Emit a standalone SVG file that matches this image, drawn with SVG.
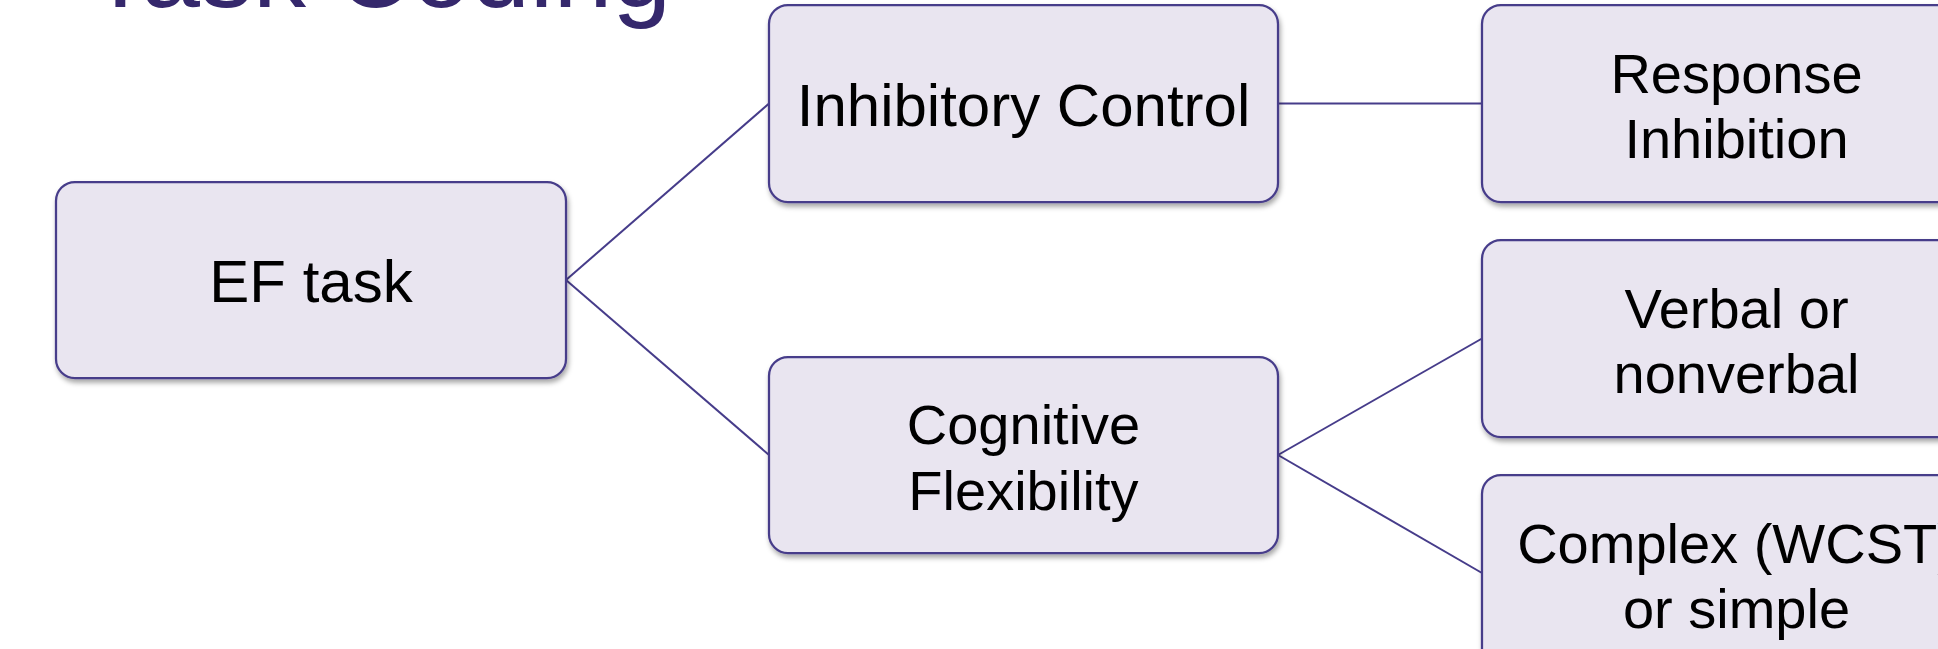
<svg xmlns="http://www.w3.org/2000/svg" width="1938" height="649" viewBox="0 0 1938 649">
<defs>
<filter id="sh" x="-5%" y="-5%" width="112%" height="120%">
<feDropShadow dx="1.5" dy="3.5" stdDeviation="2.5" flood-color="#000" flood-opacity="0.35"/>
</filter>
<style>
.box{fill:#E9E5F0;stroke:#463C8A;stroke-width:2.25;filter:url(#sh)}
.lbl{font-family:"Liberation Sans",Arial,sans-serif;fill:#000;text-anchor:middle}
.one{font-size:60px}
.two{font-size:56px}
.conn{stroke:#463C8A;stroke-width:2;fill:none}
.title{font-family:"Liberation Sans",Arial,sans-serif;font-size:106px;fill:#35286C}
</style>
</defs>
<rect width="1938" height="649" fill="#FFFFFF"/>
<text class="title" x="88" y="7">Task Coding</text>
<g id="connectors">
<line class="conn" x1="566" y1="280" x2="769" y2="103.5"/>
<line class="conn" x1="566" y1="280" x2="769" y2="455"/>
<line class="conn" x1="1278" y1="103.5" x2="1482" y2="103.5"/>
<line class="conn" x1="1278" y1="455" x2="1482" y2="338.5"/>
<line class="conn" x1="1278" y1="455" x2="1482" y2="573"/>
</g>
<g id="ef-task">
<rect class="box" x="56" y="182" width="510" height="196" rx="19"/>
<text class="lbl one" x="311" y="302">EF task</text>
</g>
<g id="inhibitory-control">
<rect class="box" x="769" y="5" width="509" height="197" rx="19"/>
<text class="lbl one" x="1023.5" y="126">Inhibitory Control</text>
</g>
<g id="cognitive-flexibility">
<rect class="box" x="769" y="357" width="509" height="196" rx="19"/>
<text class="lbl two" x="1023.5" y="444">Cognitive</text>
<text class="lbl two" x="1023.5" y="510">Flexibility</text>
</g>
<g id="response-inhibition">
<rect class="box" x="1482" y="5" width="509" height="197" rx="19"/>
<text class="lbl two" x="1736.5" y="92.5">Response</text>
<text class="lbl two" x="1736.5" y="158">Inhibition</text>
</g>
<g id="verbal-nonverbal">
<rect class="box" x="1482" y="240" width="509" height="197" rx="19"/>
<text class="lbl two" x="1736.5" y="327.5">Verbal or</text>
<text class="lbl two" x="1736.5" y="393">nonverbal</text>
</g>
<g id="complex-simple">
<rect class="box" x="1482" y="475" width="509" height="197" rx="19"/>
<text class="lbl two" x="1736.5" y="562.5">Complex (WCST)</text>
<text class="lbl two" x="1736.5" y="628">or simple</text>
</g>
</svg>
